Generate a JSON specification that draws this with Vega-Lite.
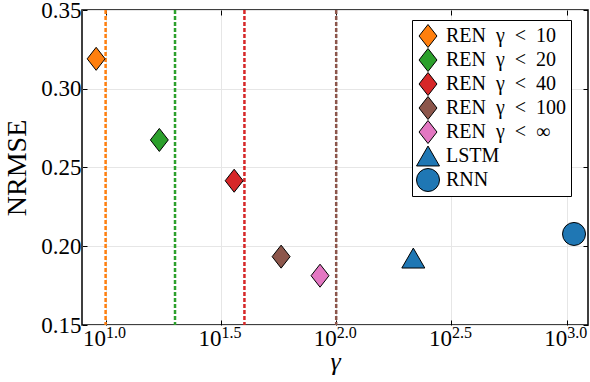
{
  "$schema": "https://vega.github.io/schema/vega-lite/v6.json",
  "width": 506,
  "height": 315,
  "autosize": {"type": "none"},
  "padding": {"left": 82, "top": 10, "right": 2, "bottom": 57},
  "background": "white",
  "config": {
    "font": "Liberation Serif",
    "view": {"stroke": "black", "strokeWidth": 1.5},
    "axis": {
      "domain": false,
      "tickColor": "black",
      "tickSize": -5,
      "tickWidth": 1,
      "gridColor": "#e6e6e6",
      "gridWidth": 1,
      "labelColor": "black",
      "titleColor": "black",
      "titleFontWeight": "normal"
    }
  },
  "datasets": {
    "limits": [
      {"gamma": 10, "series": "REN\u2002γ\u2002<\u200210"},
      {"gamma": 20, "series": "REN\u2002γ\u2002<\u200220"},
      {"gamma": 40, "series": "REN\u2002γ\u2002<\u200240"},
      {"gamma": 100, "series": "REN\u2002γ\u2002<\u2002100"}
    ],
    "results": [
      {"series": "REN\u2002γ\u2002<\u200210", "gamma": 9.1, "nrmse": 0.319},
      {"series": "REN\u2002γ\u2002<\u200220", "gamma": 17.1, "nrmse": 0.2675},
      {"series": "REN\u2002γ\u2002<\u200240", "gamma": 36.1, "nrmse": 0.2416},
      {"series": "REN\u2002γ\u2002<\u2002100", "gamma": 57.7, "nrmse": 0.1934},
      {"series": "REN\u2002γ\u2002<\u2002∞", "gamma": 85.1, "nrmse": 0.1813},
      {"series": "LSTM", "gamma": 216, "nrmse": 0.1925},
      {"series": "RNN", "gamma": 1075, "nrmse": 0.2078}
    ]
  },
  "layer": [
    {
      "data": {"name": "limits"},
      "mark": {"type": "rule", "strokeWidth": 2.5, "strokeDash": [4, 2]},
      "encoding": {
        "x": {
          "field": "gamma",
          "type": "quantitative",
          "scale": {"type": "log", "domain": [7.9, 1236], "nice": false},
          "axis": {
            "orient": "bottom",
            "values": [10, 31.6228, 100, 316.228, 1000],
            "labelExpr": "'10'",
            "labelAlign": "right",
            "labelDx": -2,
            "labelFontSize": 23,
            "labelPadding": 7,
            "labelFlush": false,
            "labelOverlap": false,
            "grid": true,
            "title": "γ",
            "titleFontSize": 26,
            "titleFontStyle": "italic",
            "titlePadding": -2
          }
        },
        "stroke": {
          "field": "series",
          "type": "nominal",
          "scale": {
            "domain": ["REN\u2002γ\u2002<\u200210", "REN\u2002γ\u2002<\u200220", "REN\u2002γ\u2002<\u200240", "REN\u2002γ\u2002<\u2002100"],
            "range": ["#ff7f0e", "#2ca02c", "#d62728", "#8c564b"]
          },
          "legend": null
        }
      }
    },
    {
      "data": {"name": "results"},
      "mark": {"type": "point", "filled": true, "stroke": "black", "strokeWidth": 1, "opacity": 1},
      "encoding": {
        "x": {
          "field": "gamma",
          "type": "quantitative",
          "axis": {"orient": "top", "values": [10, 31.6228, 100, 316.228, 1000], "labels": false, "grid": false, "title": null}
        },
        "y": {
          "field": "nrmse",
          "type": "quantitative",
          "scale": {"domain": [0.15, 0.35], "nice": false, "zero": false},
          "axis": {
            "orient": "left",
            "values": [0.15, 0.2, 0.25, 0.3, 0.35],
            "format": ".2f",
            "labelFontSize": 23,
            "labelPadding": 6,
            "labelFlush": false,
            "grid": true,
            "title": "NRMSE",
            "titleFontSize": 28,
            "titlePadding": 9
          }
        },
        "color": {
          "field": "series",
          "type": "nominal",
          "scale": {
            "domain": ["REN\u2002γ\u2002<\u200210", "REN\u2002γ\u2002<\u200220", "REN\u2002γ\u2002<\u200240", "REN\u2002γ\u2002<\u2002100", "REN\u2002γ\u2002<\u2002∞", "LSTM", "RNN"],
            "range": ["#ff7f0e", "#2ca02c", "#d62728", "#8c564b", "#e377c2", "#1f77b4", "#1f77b4"]
          },
          "legend": {
            "title": null,
            "orient": "none",
            "legendX": 330,
            "legendY": 10,
            "strokeColor": "black",
            "fillColor": "white",
            "padding": 4,
            "cornerRadius": 0,
            "labelFontSize": 20,
            "labelColor": "black",
            "labelOffset": 6,
            "rowPadding": 0,
            "clipHeight": 24,
            "symbolStrokeColor": "black",
            "symbolStrokeWidth": 1,
            "symbolOpacity": 1
          }
        },
        "shape": {
          "field": "series",
          "type": "nominal",
          "scale": {
            "domain": ["REN\u2002γ\u2002<\u200210", "REN\u2002γ\u2002<\u200220", "REN\u2002γ\u2002<\u200240", "REN\u2002γ\u2002<\u2002100", "REN\u2002γ\u2002<\u2002∞", "LSTM", "RNN"],
            "range": ["M0,-1L0.78,0L0,1L-0.78,0Z", "M0,-1L0.78,0L0,1L-0.78,0Z", "M0,-1L0.78,0L0,1L-0.78,0Z", "M0,-1L0.78,0L0,1L-0.78,0Z", "M0,-1L0.78,0L0,1L-0.78,0Z", "triangle-up", "circle"]
          },
          "legend": {"title": null}
        },
        "size": {
          "field": "series",
          "type": "nominal",
          "scale": {
            "domain": ["REN\u2002γ\u2002<\u200210", "REN\u2002γ\u2002<\u200220", "REN\u2002γ\u2002<\u200240", "REN\u2002γ\u2002<\u2002100", "REN\u2002γ\u2002<\u2002∞", "LSTM", "RNN"],
            "range": [529, 529, 529, 529, 529, 400, 540]
          },
          "legend": {"title": null}
        }
      }
    },
    {
      "data": {"name": "results"},
      "mark": {"type": "point", "opacity": 0},
      "encoding": {
        "x": {
          "field": "gamma",
          "type": "quantitative",
          "axis": {
            "orient": "bottom",
            "values": [10, 31.6228, 100, 316.228, 1000],
            "labelExpr": "datum.value < 20 ? '1.0' : datum.value < 50 ? '1.5' : datum.value < 200 ? '2.0' : datum.value < 500 ? '2.5' : '3.0'",
            "labelAlign": "left",
            "labelFontSize": 16,
            "labelPadding": -1,
            "labelFlush": false,
            "labelOverlap": false,
            "ticks": false,
            "grid": false,
            "title": null
          }
        },
        "y": {
          "field": "nrmse",
          "type": "quantitative",
          "axis": {"orient": "right", "values": [0.15, 0.2, 0.25, 0.3, 0.35], "labels": false, "grid": false, "title": null}
        }
      }
    }
  ],
  "resolve": {"axis": {"x": "independent", "y": "independent"}}
}
